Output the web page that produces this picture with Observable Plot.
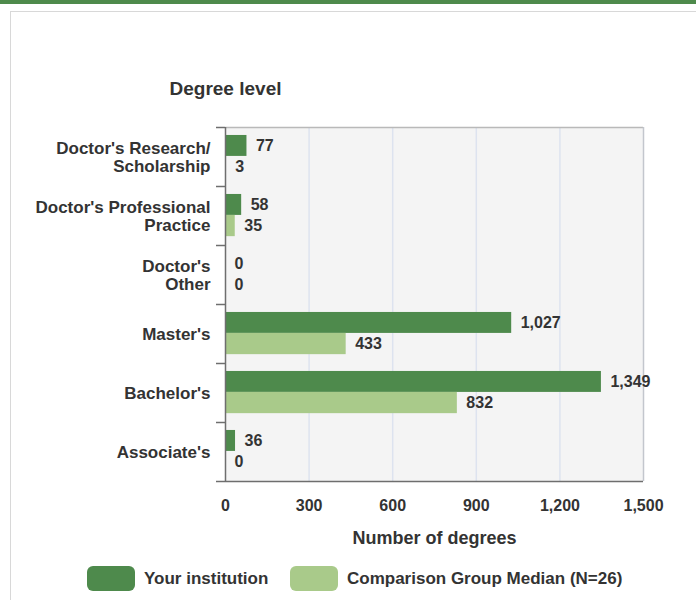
<!DOCTYPE html>
<html>
<head>
<meta charset="utf-8">
<script src="https://cdn.jsdelivr.net/npm/d3@7"></script>
<script src="https://cdn.jsdelivr.net/npm/@observablehq/plot@0.6"></script>
<style>
  html, body { margin: 0; padding: 0; background: #fff; }
  body { font-family: "Liberation Sans", Arial, Helvetica, sans-serif; color: #333; }
  #page { position: relative; width: 696px; height: 600px; overflow: hidden; }
  #topbar { position: absolute; left: 0; top: 0; width: 696px; height: 4px; background: #4e8a4c; }
  #card { position: absolute; left: 10px; top: 11px; width: 720px; height: 620px; border: 1.5px solid #d8d8d8; box-sizing: border-box; }
  #chart { position: absolute; left: 0; top: 0; }
  .lg { position: absolute; top: 566px; height: 25px; display: flex; align-items: center; font-weight: bold; font-size: 17px; color: #333; }
  .sw { width: 48px; height: 25px; border-radius: 6px; margin-right: 9px; box-sizing: border-box; }
</style>
</head>
<body>
<div id="page">
  <div id="topbar"></div>
  <div id="card"></div>
  <div id="chart"></div>
  <div id="legend"></div>
</div>
<script>
// ---- data ----
const categories = [
  "Doctor's Research/\nScholarship",
  "Doctor's Professional\nPractice",
  "Doctor's\nOther",
  "Master's",
  "Bachelor's",
  "Associate's"
];
const seriesNames = ["Your institution", "Comparison Group Median (N=26)"];
const yourValues = [77, 58, 0, 1027, 1349, 36];
const medianValues = [3, 35, 0, 433, 832, 0];
const xTicks = [0, 300, 600, 900, 1200, 1500];
const seriesColors = ["#4e8a4c", "#a9ca8a"];

// ---- table ----
const rows = [];
categories.forEach((c, i) => {
  rows.push({cat: c, i, s: 0, series: seriesNames[0], value: yourValues[i]});
  rows.push({cat: c, i, s: 1, series: seriesNames[1], value: medianValues[i]});
});
const slot = [[0.135, 0.49], [0.49, 0.85]];
const fmt = d3.format(",");
const font = '"Liberation Sans", Arial, Helvetica, sans-serif';

const chart = Plot.plot({
  width: 696,
  height: 550,
  marginTop: 127,
  marginBottom: 69,
  marginLeft: 225,
  marginRight: 53,
  style: {fontFamily: font, color: "#333", background: "transparent", overflow: "visible"},
  x: {domain: [0, 1500]},
  y: {domain: [0, 6], reverse: true},
  color: {domain: seriesNames, range: seriesColors},
  marks: [
    Plot.frame({fill: "#f4f4f4", stroke: "none"}),
    Plot.gridX({ticks: [300, 600, 900, 1200], stroke: "#dde3ef", strokeOpacity: 1, strokeWidth: 1.5}),
    Plot.ruleY([0], {stroke: "#b9b9b9", strokeWidth: 1.5}),
    Plot.ruleX([1500], {stroke: "#c3c6cd", strokeWidth: 1.5}),
    Plot.rectX(rows, {
      x1: 0,
      x2: "value",
      y1: d => d.i + slot[d.s][0],
      y2: d => d.i + slot[d.s][1],
      fill: "series"
    }),
    Plot.ruleX([0], {stroke: "#6e6e6e", strokeWidth: 1.5}),
    Plot.ruleY([6], {stroke: "#6e6e6e", strokeWidth: 1.5}),
    Plot.axisY({ticks: d3.range(7), tickSize: 9, tickFormat: () => "", stroke: "#6e6e6e", strokeWidth: 1.5, label: null}),
    Plot.axisY({
      ticks: categories.map((c, i) => i + 0.5),
      tickSize: 0,
      tickPadding: 15,
      tickFormat: v => categories[Math.floor(v)],
      fontSize: 17,
      fontWeight: "bold",
      lineHeight: 1.08,
      fill: "#333",
      label: null
    }),
    Plot.axisX({
      ticks: xTicks,
      tickSize: 0,
      tickPadding: 18,
      tickFormat: fmt,
      fontSize: 16,
      fontWeight: "bold",
      fill: "#333",
      label: null
    }),
    Plot.text(rows, {
      x: "value",
      y: d => d.i + (slot[d.s][0] + slot[d.s][1]) / 2,
      text: d => fmt(d.value),
      dx: 9,
      textAnchor: "start",
      fontSize: 16,
      fontWeight: "bold",
      fill: "#333"
    }),
    Plot.text(["Number of degrees"], {
      frameAnchor: "bottom",
      lineAnchor: "middle",
      dy: 57,
      fontSize: 18,
      fontWeight: "bold",
      fill: "#333"
    }),
    Plot.text(["Degree level"], {
      frameAnchor: "top-left",
      lineAnchor: "middle",
      dy: -39,
      textAnchor: "middle",
      fontSize: 19,
      fontWeight: "bold",
      fill: "#333"
    })
  ]
});
document.getElementById("chart").appendChild(chart);

// ---- legend ----
const legend = document.getElementById("legend");
const legendLeft = [87, 290];
seriesNames.forEach((name, k) => {
  const item = document.createElement("div");
  item.className = "lg";
  item.style.left = legendLeft[k] + "px";
  const sw = document.createElement("div");
  sw.className = "sw";
  sw.style.background = seriesColors[k];
  const t = document.createElement("span");
  t.textContent = name;
  item.appendChild(sw);
  item.appendChild(t);
  legend.appendChild(item);
});
</script>
</body>
</html>
